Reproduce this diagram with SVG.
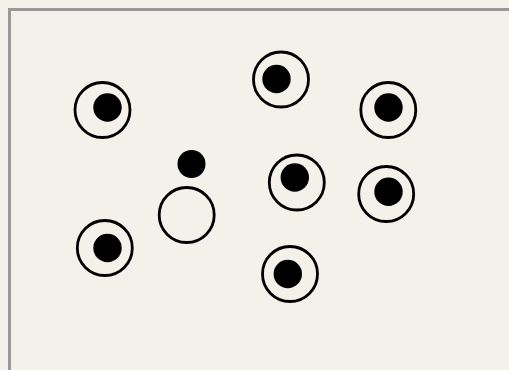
<svg xmlns="http://www.w3.org/2000/svg" width="509" height="370" viewBox="0 0 509 370">
<style>
.ring{fill:none;stroke:#000;stroke-width:2.8}
.dot{fill:#000}
</style>
<rect x="0" y="0" width="509" height="370" fill="#f4f1ea"/>
<rect x="9.5" y="9.5" width="520" height="380" fill="#f4f1eb" stroke="#999" stroke-width="3"/>
<g id="n1"><circle class="ring" cx="102.5" cy="110" r="27.5"/><circle class="dot" cx="107.5" cy="107.5" r="14.2"/></g>
<g id="n2"><circle class="dot" cx="191.5" cy="164" r="14"/></g>
<g id="n3"><circle class="ring" cx="186.7" cy="215" r="27.5"/></g>
<g id="n4"><circle class="ring" cx="104.8" cy="248" r="27.5"/><circle class="dot" cx="107.5" cy="248" r="14.2"/></g>
<g id="n5"><circle class="ring" cx="281" cy="79.5" r="27.5"/><circle class="dot" cx="276.5" cy="79" r="14.2"/></g>
<g id="n6"><circle class="ring" cx="388.3" cy="110" r="27.5"/><circle class="dot" cx="388.5" cy="107.5" r="14.2"/></g>
<g id="n7"><circle class="ring" cx="296.8" cy="182.5" r="27.5"/><circle class="dot" cx="294.8" cy="177.5" r="14.2"/></g>
<g id="n8"><circle class="ring" cx="386.2" cy="194" r="27.5"/><circle class="dot" cx="388.5" cy="191.7" r="14.2"/></g>
<g id="n9"><circle class="ring" cx="290" cy="274" r="27.5"/><circle class="dot" cx="287.8" cy="274" r="14.2"/></g>
<g id="connectors"/>
</svg>
